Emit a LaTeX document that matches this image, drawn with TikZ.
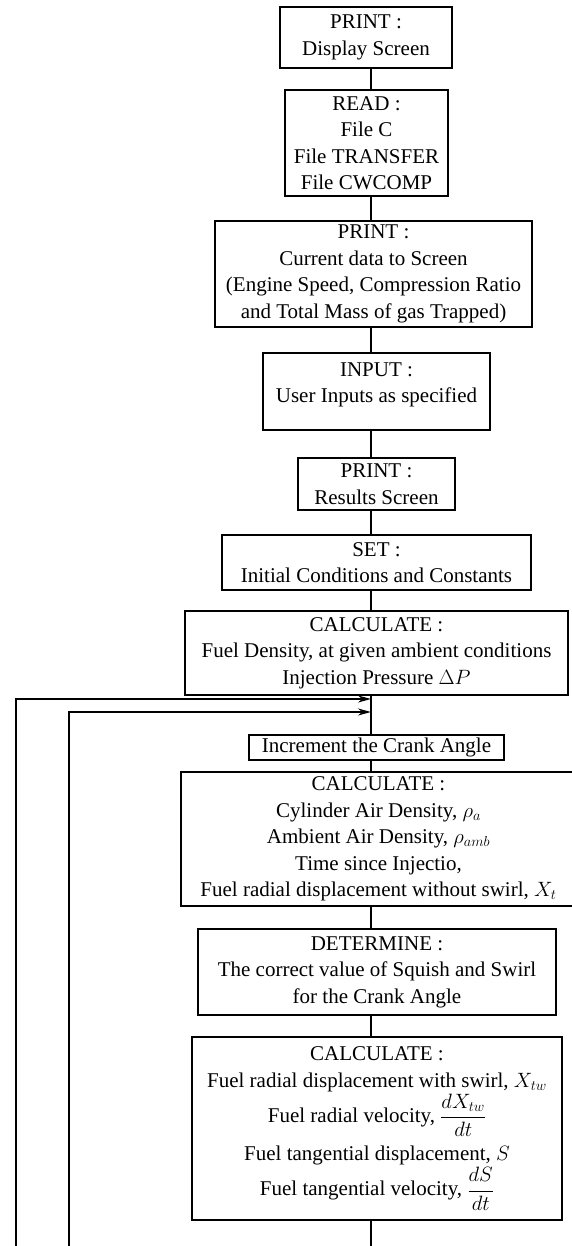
\documentclass[tikz,border=0pt]{standalone}
\usepackage{fontspec}
\setmainfont{Liberation Serif}
\usetikzlibrary{arrows.meta}
\begin{document}
\begin{tikzpicture}[x=1pt,y=-1pt,
  box/.style={draw, line width=1.6pt, align=center, inner sep=0pt,
    font=\fontsize{21}{26.5}\selectfont},
  conn/.style={line width=1.6pt},
  back/.style={line width=1.6pt, -{Stealth[length=13pt,width=7pt]}}]
\useasboundingbox (0,0) rectangle (571,1246);
\coordinate (sp) at (371,0);

\node[box, minimum width=172pt, minimum height=61pt] (b1) at (366,37.5)
  {PRINT :\\Display Screen};
\node[box, minimum width=163pt, minimum height=106pt] (b2) at (366.5,143)
  {READ :\\File C\\File TRANSFER\\File CWCOMP};
\node[box, minimum width=317pt, minimum height=106pt] (b3) at (373.5,274)
  {PRINT :\\Current data to Screen\\(Engine Speed, Compression Ratio\\and Total Mass of gas Trapped)};
\node[box, minimum width=227pt, minimum height=77pt] (b4) at (376.5,391.5)
  {INPUT :\\User Inputs as specified\\[-8.5pt]\mbox{}};
\node[box, minimum width=157pt, minimum height=52pt] (b5) at (376.5,484)
  {PRINT :\\Results Screen};
\node[box, minimum width=309pt, minimum height=55pt] (b6) at (376.5,562.5)
  {SET :\\Initial Conditions and Constants};
\node[box, minimum width=383pt, minimum height=84pt] (b7) at (376.5,653)
  {CALCULATE :\\Fuel Density, at given ambient conditions\\Injection Pressure $\Delta P$};
\node[box, minimum width=255pt, minimum height=25pt] (b8) at (376.5,747.5)
  {Increment the Crank Angle};
\node[box, minimum width=395pt, minimum height=134pt] (b9) at (378.5,839)
  {CALCULATE :\\Cylinder Air Density, $\rho_a$\\Ambient Air Density, $\rho_{amb}$\\Time since Injectio,\\Fuel radial displacement without swirl, $X_t$};
\node[box, minimum width=358pt, minimum height=86pt] (b10) at (377,972)
  {DETERMINE :\\The correct value of Squish and Swirl\\for the Crank Angle};
\node[box, minimum width=370pt, minimum height=183pt] (b11) at (377,1128.5)
  {CALCULATE :\\Fuel radial displacement with swirl, $X_{tw}$\\[1pt]
   Fuel radial velocity, $\displaystyle\frac{dX_{tw}}{dt}$\\[9pt]
   Fuel tangential displacement, $S$\\[1pt]
   Fuel tangential velocity, $\displaystyle\frac{dS}{dt}$};

\draw[conn] (b1.south -| sp) -- (b2.north -| sp);
\draw[conn] (b2.south -| sp) -- (b3.north -| sp);
\draw[conn] (b3.south -| sp) -- (b4.north -| sp);
\draw[conn] (b4.south -| sp) -- (b5.north -| sp);
\draw[conn] (b5.south -| sp) -- (b6.north -| sp);
\draw[conn] (b6.south -| sp) -- (b7.north -| sp);
\draw[conn] (b7.south -| sp) -- (b8.north -| sp);
\draw[conn] (b8.south -| sp) -- (b9.north -| sp);
\draw[conn] (b9.south -| sp) -- (b10.north -| sp);
\draw[conn] (b10.south -| sp) -- (b11.north -| sp);
\coordinate (endb) at (371,1246);
\draw[conn] (b11.south -| sp) -- (endb);

\coordinate (o1) at (16,1246);
\coordinate (j1) at (371,699);
\coordinate (o2) at (69,1246);
\coordinate (j2) at (371,712);
\draw[back] (o1) |- (j1);
\draw[back] (o2) |- (j2);
\end{tikzpicture}
\end{document}
